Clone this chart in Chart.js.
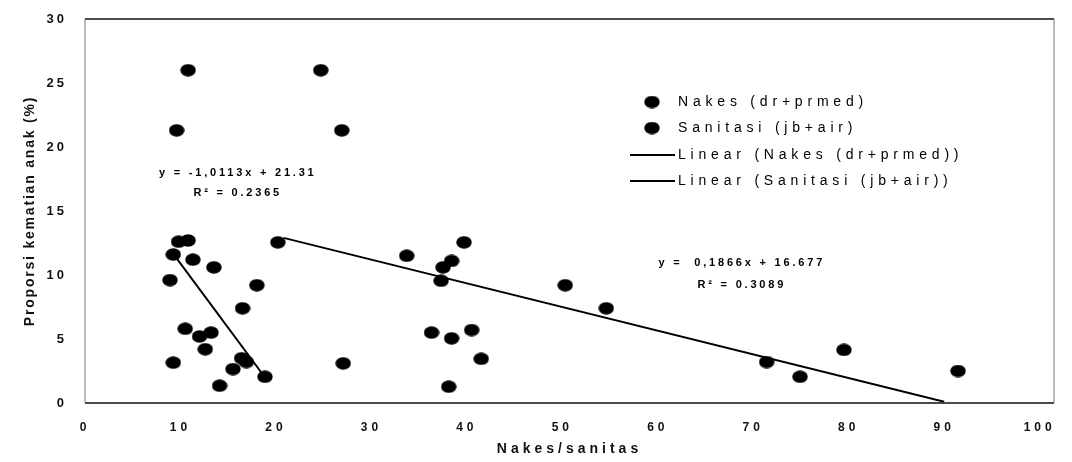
<!DOCTYPE html>
<html><head><meta charset="utf-8">
<script src="https://cdn.jsdelivr.net/npm/chart.js@4.4.1/dist/chart.umd.min.js"></script>
<style>html,body{margin:0;padding:0;background:#fff}</style>
</head><body>
<canvas id="c" width="1072" height="462"></canvas>
<script>
// ---- data ----
const nakesX = [10.8, 9.6, 9.8, 10.8, 9.25, 11.3, 13.5, 8.9, 18.0, 16.5, 10.5, 12.0, 13.2, 12.6, 9.25, 16.4, 16.9, 15.5, 18.85, 14.1];
const nakesY = [26.0, 21.3, 12.6, 12.7, 11.6, 11.2, 10.6, 9.6, 9.2, 7.4, 5.8, 5.2, 5.5, 4.2, 3.15, 3.5, 3.2, 2.65, 2.05, 1.35];
const sanitasiX = [24.7, 26.9, 20.2, 27.05, 33.7, 39.7, 38.4, 37.5, 37.3, 36.3, 38.4, 40.5, 41.5, 38.1, 50.3, 54.6, 71.4, 74.9, 79.5, 91.45];
const sanitasiY = [26.0, 21.3, 12.55, 3.1, 11.5, 12.55, 11.1, 10.6, 9.55, 5.5, 5.05, 5.7, 3.45, 1.27, 9.2, 7.4, 3.2, 2.05, 4.15, 2.5];
const trendNakesX = [9.0, 18.8];
const trendNakesY = [11.9, 2.05];
const trendSanitasiX = [20.8, 90.0];
const trendSanitasiY = [12.9, 0.1];
const xTicks = [0, 10, 20, 30, 40, 50, 60, 70, 80, 90, 100];
const yTicks = [0, 5, 10, 15, 20, 25, 30];
const seriesLabels = ['Nakes (dr+prmed)', 'Sanitasi (jb+air)', 'Linear (Nakes (dr+prmed))', 'Linear (Sanitasi (jb+air))'];
const eqNakes = ['y = -1,0113x + 21.31', 'R² = 0.2365'];
const eqSanitasi = ['y =  0,1866x + 16.677', 'R² = 0.3089'];
const eqNakesPos = [16.0, 18.0, 16.4];      // x, y line1, y line2 (data units)
const eqSanitasiPos = [68.8, 10.95, 9.25];

const FONT = "'Liberation Sans', Arial, sans-serif";
const pts = (xs, ys) => xs.map((x, i) => ({x, y: ys[i]}));

function ellipseImg(w, h) {
  const c = document.createElement('canvas'); c.width = w; c.height = h;
  const g = c.getContext('2d'); g.fillStyle = '#000';
  g.beginPath(); g.ellipse(w / 2, h / 2, w / 2 - 0.3, h / 2 - 0.3, 0, 0, Math.PI * 2); g.fill();
  return c;
}
const dot = ellipseImg(16, 13);

const spacingPlugin = {
  id: 'spacing',
  beforeDraw(chart) {
    Object.values(chart.scales).forEach(s => {
      if (s._wrapped) return; s._wrapped = true;
      const dl = s.drawLabels.bind(s), dt = s.drawTitle.bind(s);
      s.drawLabels = function (a) { const c = this.ctx; c.save(); c.letterSpacing = this.axis === 'x' ? '4px' : '3px'; dl(a); c.restore(); };
      s.drawTitle = function (a) { const c = this.ctx; c.save(); c.letterSpacing = this.axis === 'x' ? '4px' : '1.8px'; dt(a); c.restore(); };
    });
  },
  afterDraw(chart) {
    const {ctx, chartArea: a, scales} = chart;
    ctx.save();
    // frame
    ctx.strokeStyle = '#111'; ctx.lineWidth = 1.5;
    ctx.beginPath(); ctx.moveTo(a.left, a.top); ctx.lineTo(a.right, a.top);
    ctx.moveTo(a.left, a.bottom); ctx.lineTo(a.right, a.bottom); ctx.stroke();
    ctx.strokeStyle = '#777'; ctx.lineWidth = 1;
    ctx.beginPath(); ctx.moveTo(a.left, a.top); ctx.lineTo(a.left, a.bottom);
    ctx.moveTo(a.right, a.top); ctx.lineTo(a.right, a.bottom); ctx.stroke();
    // equations
    ctx.fillStyle = '#000'; ctx.font = `bold 11px ${FONT}`; ctx.letterSpacing = '2.8px';
    ctx.textAlign = 'center'; ctx.textBaseline = 'middle';
    [[eqNakes, eqNakesPos], [eqSanitasi, eqSanitasiPos]].forEach(([t, p]) => {
      const x = scales.x.getPixelForValue(p[0]);
      ctx.fillText(t[0], x, scales.y.getPixelForValue(p[1]));
      ctx.fillText(t[1], x, scales.y.getPixelForValue(p[2]));
    });
    // legend
    ctx.font = `14px ${FONT}`; ctx.letterSpacing = '4.8px'; ctx.textAlign = 'left';
    const rows = [102, 128, 155, 181];
    chart.data.datasets.forEach((ds, i) => {
      const y = rows[i];
      if (ds.type === 'line') {
        ctx.strokeStyle = '#000'; ctx.lineWidth = 2;
        ctx.beginPath(); ctx.moveTo(630, y); ctx.lineTo(675, y); ctx.stroke();
      } else {
        ctx.drawImage(dot, 652 - 8, y - 6.5);
      }
      ctx.fillText(ds.label, 678, y);
    });
    ctx.restore();
  }
};

const noPad = s => { s.paddingTop = 0; s.paddingBottom = 0; s.paddingLeft = 0; s.paddingRight = 0; };

new Chart(document.getElementById('c'), {
  type: 'scatter',
  data: {
    datasets: [
      {label: seriesLabels[0], data: pts(nakesX, nakesY), pointStyle: dot, pointRadius: 7, backgroundColor: '#000', borderColor: '#000'},
      {label: seriesLabels[1], data: pts(sanitasiX, sanitasiY), pointStyle: dot, pointRadius: 7, backgroundColor: '#000', borderColor: '#000'},
      {type: 'line', label: seriesLabels[2], data: pts(trendNakesX, trendNakesY), borderColor: '#000', borderWidth: 2, pointRadius: 0, showLine: true},
      {type: 'line', label: seriesLabels[3], data: pts(trendSanitasiX, trendSanitasiY), borderColor: '#000', borderWidth: 2, pointRadius: 0, showLine: true}
    ]
  },
  options: {
    responsive: false, animation: false, devicePixelRatio: 1,
    layout: {padding: {left: 0, top: 19, right: 18, bottom: 0}},
    plugins: {legend: {display: false}, tooltip: {enabled: false}},
    scales: {
      x: {
        type: 'linear', min: 0, max: 101.5,
        afterBuildTicks: s => { s.ticks = xTicks.map(v => ({value: v})); },
        afterFit: s => { s.height = 59; noPad(s); },
        grid: {display: false, drawTicks: false}, border: {display: false},
        ticks: {padding: 17, color: '#111', maxRotation: 0, autoSkip: false, font: {family: FONT, size: 12, weight: 'bold'}},
        title: {display: true, text: 'Nakes/sanitas', color: '#111', font: {family: FONT, size: 14, weight: 'bold'}, padding: {top: 0, bottom: 4}}
      },
      y: {
        type: 'linear', min: 0, max: 30,
        afterBuildTicks: s => { s.ticks = yTicks.map(v => ({value: v})); },
        afterFit: s => { s.width = 85; noPad(s); },
        grid: {display: false, drawTicks: false}, border: {display: false},
        ticks: {padding: 18, color: '#111', font: {family: FONT, size: 13, weight: 'bold'}},
        title: {display: true, text: 'Proporsi kematian anak (%)', color: '#111', font: {family: FONT, size: 14, weight: 'bold'}, padding: {top: 22, bottom: 0}}
      }
    }
  },
  plugins: [spacingPlugin]
});
</script>
</body></html>
